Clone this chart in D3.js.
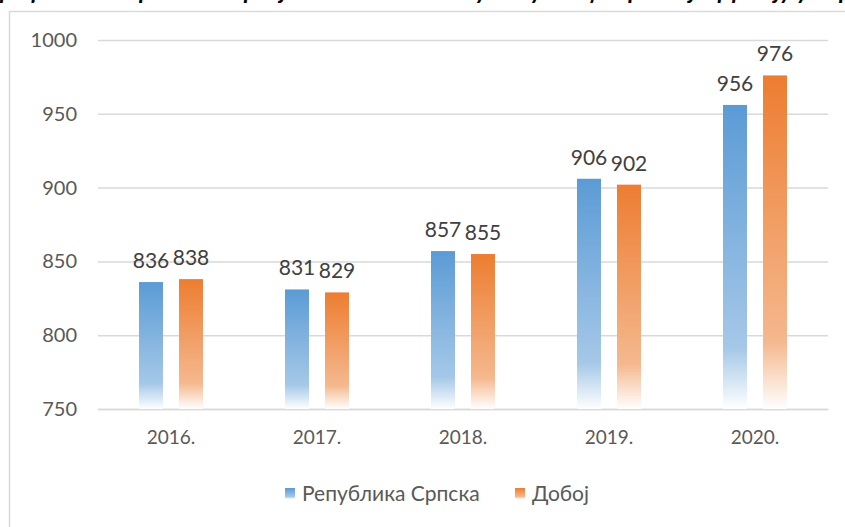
<!DOCTYPE html>
<html><head><meta charset="utf-8">
<script src="https://cdn.jsdelivr.net/npm/d3@7"></script>
<style>body{margin:0;background:#fff}svg{display:block}</style>
</head><body>
<script>
const categories = ["2016.", "2017.", "2018.", "2019.", "2020."];
const seriesNames = ["Република Српска", "Добој"];
const rsValues = [836, 831, 857, 906, 956];
const dobojValues = [838, 829, 855, 902, 976];
const yTicks = [750, 800, 850, 900, 950, 1000];
const titleText = "Графикон 5. Кретање просјечне нето плате у Републици Српској и Добоју у периоду 2016-2020.";

const W = 845, H = 527;
const colors = ["#5B9BD5", "#ED7D31"];
const svg = d3.select("body").append("svg").attr("width", W).attr("height", H);
const font = "Lato, 'Open Sans', sans-serif";

const defs = svg.append("defs");
colors.forEach((c, i) => {
  const g = defs.append("linearGradient").attr("id", "g" + i)
    .attr("x1", 0).attr("y1", 0).attr("x2", 0).attr("y2", 1);
  g.append("stop").attr("offset", "0%").attr("stop-color", c);
  g.append("stop").attr("offset", "80%").attr("stop-color", d3.interpolateRgb(c, "#fff")(0.45));
  g.append("stop").attr("offset", "100%").attr("stop-color", "#fff");
});

// title (cut off by the top edge, as in the reference)
svg.append("text")
  .attr("x", -10).attr("y", -1)
  .attr("font-family", font).attr("font-size", 24)
  .attr("font-weight", "bold").attr("font-style", "italic").attr("fill", "#000")
  .text(titleText);

// frame
svg.append("rect").attr("x", 9.5).attr("y", 11.5).attr("width", 900).attr("height", 600)
  .attr("fill", "none").attr("stroke", "#d9d9d9").attr("stroke-width", 1.5);

const x0 = 98, x1 = 828;
const y = d3.scaleLinear().domain([750, 1000]).range([409, 40]);
const x = d3.scaleBand().domain(categories).range([x0, x1]);
const xs = d3.scaleBand().domain(seriesNames).range([-32, 32]).paddingInner(0.4);

// grid
const yAxis = d3.axisLeft(y).tickValues(yTicks).tickFormat(d3.format("d"))
  .tickSize(-(x1 - x0)).tickPadding(21);
const ga = svg.append("g").attr("transform", `translate(${x0},0)`).call(yAxis);
ga.select(".domain").remove();
ga.selectAll(".tick line").attr("stroke", "#d9d9d9").attr("stroke-width", 1.5);
ga.selectAll(".tick text").attr("font-family", font).attr("font-size", 20).attr("fill", "#595959");

const xAxis = d3.axisBottom(x).tickSize(0).tickPadding(22);
const gx = svg.append("g").attr("transform", `translate(0,${y(750)})`).call(xAxis);
gx.select(".domain").attr("stroke", "#d9d9d9").attr("stroke-width", 1.5);
gx.selectAll(".tick text").attr("font-family", font).attr("font-size", 19).attr("fill", "#595959");

const data = [rsValues, dobojValues];
data.forEach((vals, si) => {
  const g = svg.append("g");
  g.selectAll("rect").data(vals).join("rect")
    .attr("x", (d, i) => x(categories[i]) + x.bandwidth() / 2 + xs(seriesNames[si]))
    .attr("width", xs.bandwidth())
    .attr("y", d => y(d))
    .attr("height", d => y(750) - y(d))
    .attr("fill", `url(#g${si})`);
  g.selectAll("text").data(vals).join("text")
    .attr("x", (d, i) => x(categories[i]) + x.bandwidth() / 2 + xs(seriesNames[si]) + xs.bandwidth() / 2)
    .attr("y", d => y(d) - 14)
    .attr("text-anchor", "middle")
    .attr("font-family", font).attr("font-size", 21).attr("fill", "#404040")
    .text(d => d);
});

// legend
const leg = svg.append("g").attr("transform", "translate(0,494)");
const legX = [285, 515];
seriesNames.forEach((n, i) => {
  leg.append("rect").attr("x", legX[i]).attr("y", -6).attr("width", 10).attr("height", 11).attr("fill", `url(#g${i})`);
  leg.append("text").attr("x", legX[i] + 17).attr("y", 0).attr("dy", "0.35em")
    .attr("font-family", font).attr("font-size", 21).attr("fill", "#595959").text(n);
});
</script>
</body></html>
